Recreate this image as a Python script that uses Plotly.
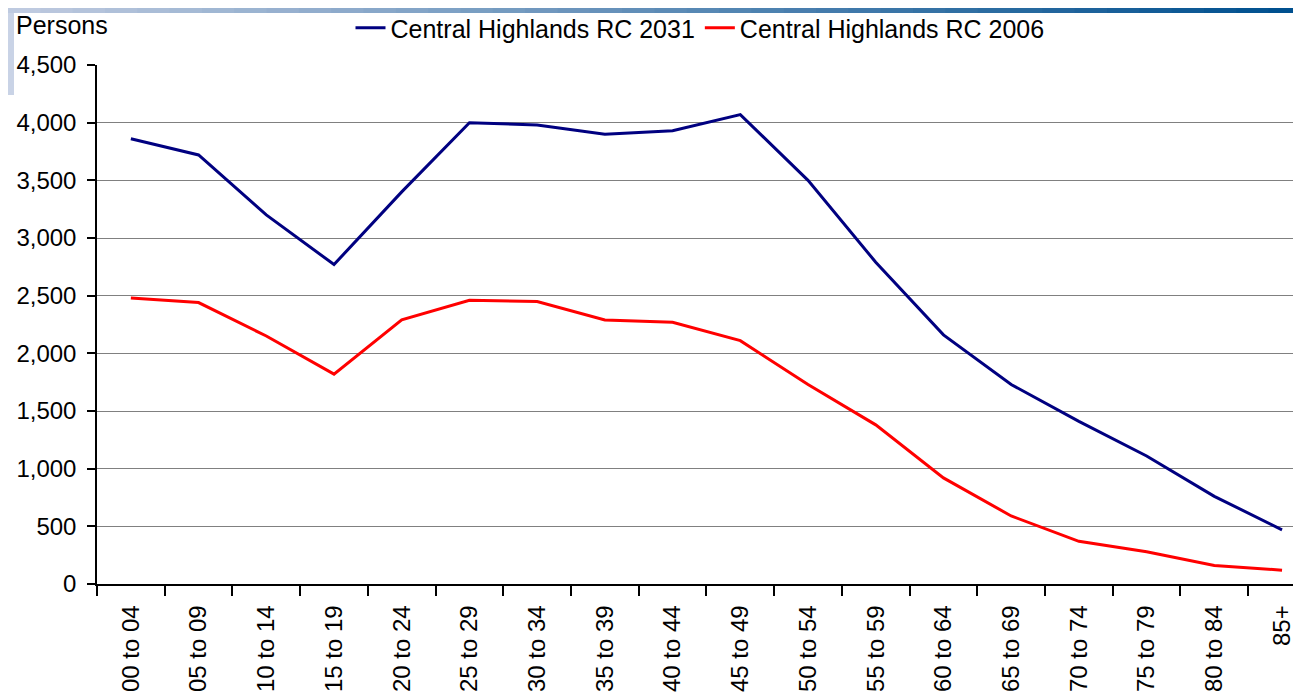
import plotly.graph_objects as go

# age groups and persons
age_groups = ["00 to 04", "05 to 09", "10 to 14", "15 to 19", "20 to 24",
              "25 to 29", "30 to 34", "35 to 39", "40 to 44", "45 to 49",
              "50 to 54", "55 to 59", "60 to 64", "65 to 69", "70 to 74",
              "75 to 79", "80 to 84", "85+"]
persons_2031 = [3860, 3720, 3200, 2770, 3400, 4000, 3980, 3900, 3930, 4070,
                3500, 2790, 2160, 1730, 1410, 1110, 760, 470]
persons_2006 = [2480, 2440, 2150, 1820, 2290, 2460, 2450, 2290, 2270, 2110,
                1730, 1380, 920, 590, 370, 280, 160, 120]

# the page body adds an 8px margin, so the figure is drawn 8px in and down
OFF = 8
W, H = 1301 - OFF, 695 - OFF
ML, MR, MT, MB = 97 - OFF, 0, 65 - OFF, 111
PW = W - ML - MR
PH = H - MT - MB

FONT = "Arial, Liberation Sans, sans-serif"


def px_x(x):
    # window pixel x -> paper x
    return (x - OFF - ML) / PW


def px_y(y):
    # window pixel y (from top) -> paper y
    return (H - MB - (y - OFF)) / PH


fig = go.Figure()
fig.add_trace(go.Scatter(name="Central Highlands RC 2031", x=age_groups,
                         y=persons_2031, mode="lines",
                         line=dict(color="#000080", width=3)))
fig.add_trace(go.Scatter(name="Central Highlands RC 2006", x=age_groups,
                         y=persons_2006, mode="lines",
                         line=dict(color="#ff0000", width=3)))

# decorative gradient bar along the top edge
shapes = []
n = 40
c0 = (190, 202, 224)
c1 = (0, 80, 143)
for i in range(n):
    t = i / (n - 1)
    col = tuple(int(c0[k] + (c1[k] - c0[k]) * t) for k in range(3))
    shapes.append(dict(type="rect", xref="paper", yref="paper",
                       x0=px_x(OFF + W * i / n), x1=px_x(OFF + W * (i + 1) / n + 1),
                       y0=px_y(OFF + 5), y1=px_y(OFF), line_width=0,
                       fillcolor="rgb(%d,%d,%d)" % col, layer="below"))
# light block at the left edge
shapes.append(dict(type="rect", xref="paper", yref="paper",
                   x0=px_x(OFF), x1=px_x(OFF + 6), y0=px_y(95), y1=px_y(OFF + 5),
                   line_width=0, fillcolor="#c9d3e6", layer="below"))

fig.update_layout(
    width=W, height=H,
    margin=dict(l=ML, r=MR, t=MT, b=MB, autoexpand=False),
    paper_bgcolor="white", plot_bgcolor="white",
    font=dict(family=FONT, size=24, color="black"),
    showlegend=True,
    legend=dict(orientation="h", x=px_x(700), xanchor="center",
                y=px_y(28), yanchor="middle", font=dict(size=25),
                bgcolor="rgba(0,0,0,0)", itemwidth=30),
    shapes=shapes,
    annotations=[dict(text="Persons", xref="paper", yref="paper",
                      x=px_x(14), y=px_y(25), xanchor="left",
                      yanchor="middle", showarrow=False,
                      font=dict(size=25))],
)

fig.update_xaxes(type="category", range=[-0.5, 17.28],
                 tickangle=-90, tickson="boundaries", ticks="outside",
                 ticklen=10, tickwidth=1.5, tickcolor="black",
                 ticklabelstandoff=10,
                 showline=True, linecolor="black", linewidth=1.5,
                 showgrid=False, zeroline=False, automargin=False,
                 tickfont=dict(size=24))
fig.update_yaxes(range=[0, 4500], dtick=500, tickformat=",",
                 ticks="outside", ticklen=8, tickwidth=1.5,
                 tickcolor="black", ticklabelstandoff=6,
                 showline=True, linecolor="black",
                 linewidth=1.5, showgrid=True, gridcolor="#808080",
                 gridwidth=1, zeroline=False, automargin=False,
                 tickfont=dict(size=24))

fig.write_html("out.html")
